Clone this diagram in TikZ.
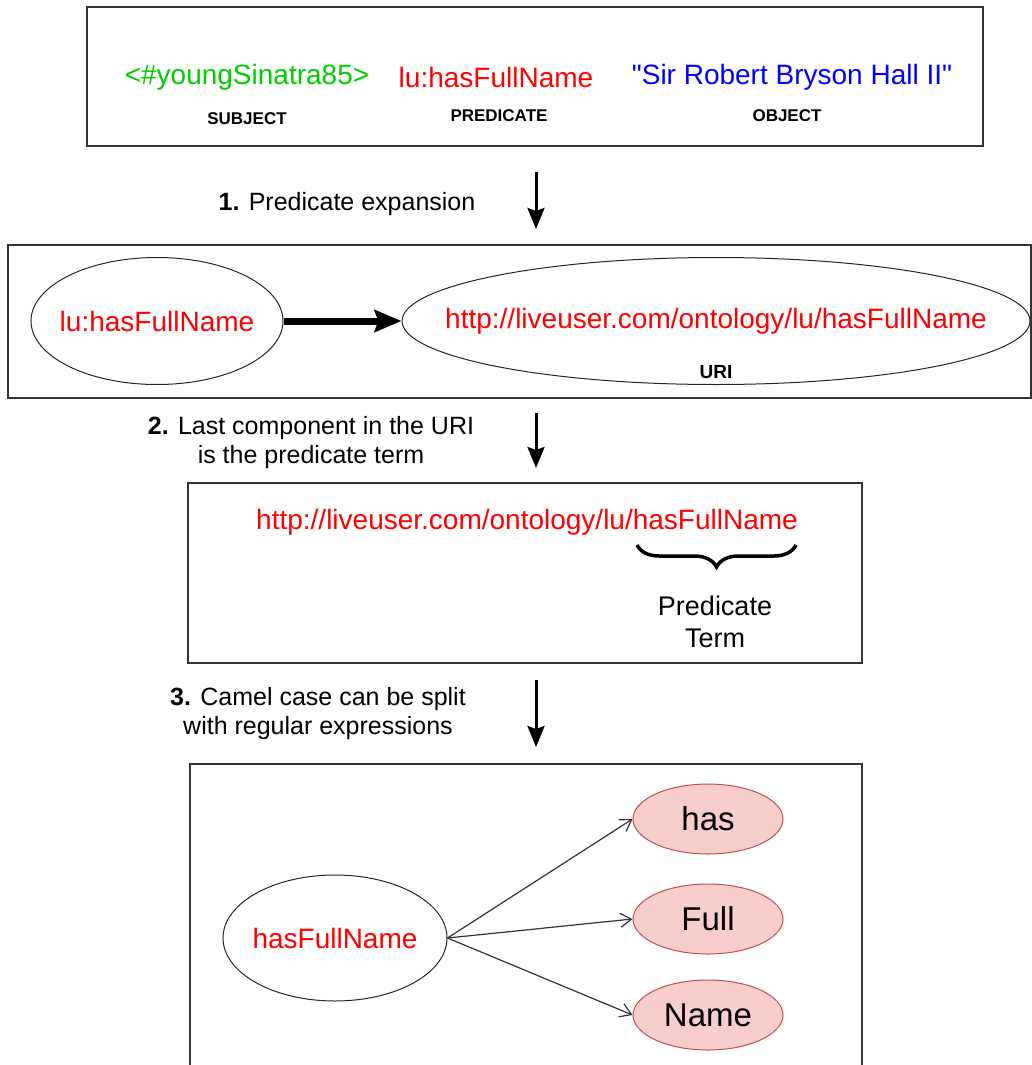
\documentclass[tikz,border=0pt]{standalone}
\usepackage{fontspec}
\setmainfont{Liberation Sans}
\usetikzlibrary{arrows.meta,shapes.geometric,decorations.pathreplacing}
\definecolor{subjgreen}{HTML}{00CC00}
\definecolor{predred}{HTML}{FF0000}
\definecolor{objblue}{HTML}{0000FF}
\definecolor{partfill}{HTML}{F8CECC}
\definecolor{partline}{HTML}{B85450}
\definecolor{frame}{HTML}{333333}
\begin{document}
\begin{tikzpicture}[x=1pt,y=-1pt,
  panel/.style={draw=frame,line width=1.4pt},
  bigtext/.style={font=\fontsize{28}{32}\selectfont,inner sep=0pt},
  steptext/.style={font=\fontsize{25}{29}\selectfont,align=center,inner sep=0pt},
  tag/.style={font=\fontsize{17}{20}\selectfont\bfseries,inner sep=0pt},
  bubble/.style={ellipse,draw=black!85,line width=1pt,inner sep=0pt},
  part/.style={ellipse,draw=partline,fill=partfill,line width=1pt,inner sep=0pt,
    minimum width=150pt,minimum height=70pt,font=\fontsize{33}{36}\selectfont},
  downarrow/.style={line width=3pt,-{Stealth[length=21pt,width=17pt,inset=3pt]}},
  bigarrow/.style={line width=7pt,-{Stealth[length=27pt,width=22pt,inset=4pt]}},
  splitarrow/.style={draw=black!80,line width=1.2pt,-{Straight Barb[length=11pt,width=14pt,line width=1.2pt]}}
]
\useasboundingbox (0,0) rectangle (1032,1065);

% ---- the triple ----
\draw[panel] (87,7) rectangle (983,146);
\node[bigtext,text=subjgreen] (subj) at (247,77) {<\#youngSinatra85>};
\node[bigtext,text=predred] (pred) at (496,77) {lu:hasFullName};
\node[bigtext,text=objblue] (obj) at (792,77) {\textquotedbl Sir Robert Bryson Hall II\textquotedbl};
\node[tag] (subjtag) at (247,119) {SUBJECT};
\node[tag] (predtag) at (499,116) {PREDICATE};
\node[tag] (objtag) at (787,116) {OBJECT};

% ---- step 1 ----
\coordinate (s1a) at (536,172);
\coordinate (s1b) at (536,229);
\draw[downarrow] (s1a) -- (s1b);
\node[steptext] (step1) at (347,204) {\textbf{1.} Predicate expansion};

\draw[panel] (8,245) rectangle (1031,398);
\node[bubble,minimum width=252pt,minimum height=127pt,
  label={[bigtext,text=predred]center:lu:hasFullName}] (short) at (157,321) {};
\node[bubble,minimum width=628pt,minimum height=127pt,
  label={[bigtext,text=predred]center:http://liveuser.com/ontology/lu/hasFullName}] (full) at (716,321) {};
\node[tag,font=\fontsize{19}{22}\selectfont\bfseries] (uri) at (716,372) {URI};
\draw[bigarrow] (short) -- (full);

% ---- step 2 ----
\coordinate (s2a) at (536,413);
\coordinate (s2b) at (536,468);
\draw[downarrow] (s2a) -- (s2b);
\node[steptext] (step2) at (311,443) {\textbf{2.} Last component in the URI\\is the predicate term};

\draw[panel] (188,483) rectangle (862,663);
\node[bigtext,text=predred] (url) at (527,522) {http://liveuser.com/ontology/lu/hasFullName};
\coordinate (brl) at (637,545);
\coordinate (brr) at (796,545);
\draw[line width=3.5pt,decorate,decoration={brace,mirror,amplitude=22pt,aspect=0.5}] (brl) -- (brr);
\node[bigtext,align=center,font=\fontsize{27}{32}\selectfont] (termlbl) at (715,622) {Predicate\\Term};

% ---- step 3 ----
\coordinate (s3a) at (536,680);
\coordinate (s3b) at (536,747);
\draw[downarrow] (s3a) -- (s3b);
\node[steptext] (step3) at (318,714) {\textbf{3.} Camel case can be split\\with regular expressions};

\draw[panel] (190,1066) -- (190,764) -- (862,764) -- (862,1066);
\node[bubble,minimum width=224pt,minimum height=126pt,
  label={[bigtext,text=predred]center:hasFullName}] (camel) at (335,938) {};
\node[part] (has) at (708,819) {has};
\node[part] (fullw) at (708,919) {Full};
\node[part] (name) at (708,1015) {Name};
\draw[splitarrow] (camel.east) -- (has.west);
\draw[splitarrow] (camel.east) -- (fullw.west);
\draw[splitarrow] (camel.east) -- (name.west);
\end{tikzpicture}
\end{document}
